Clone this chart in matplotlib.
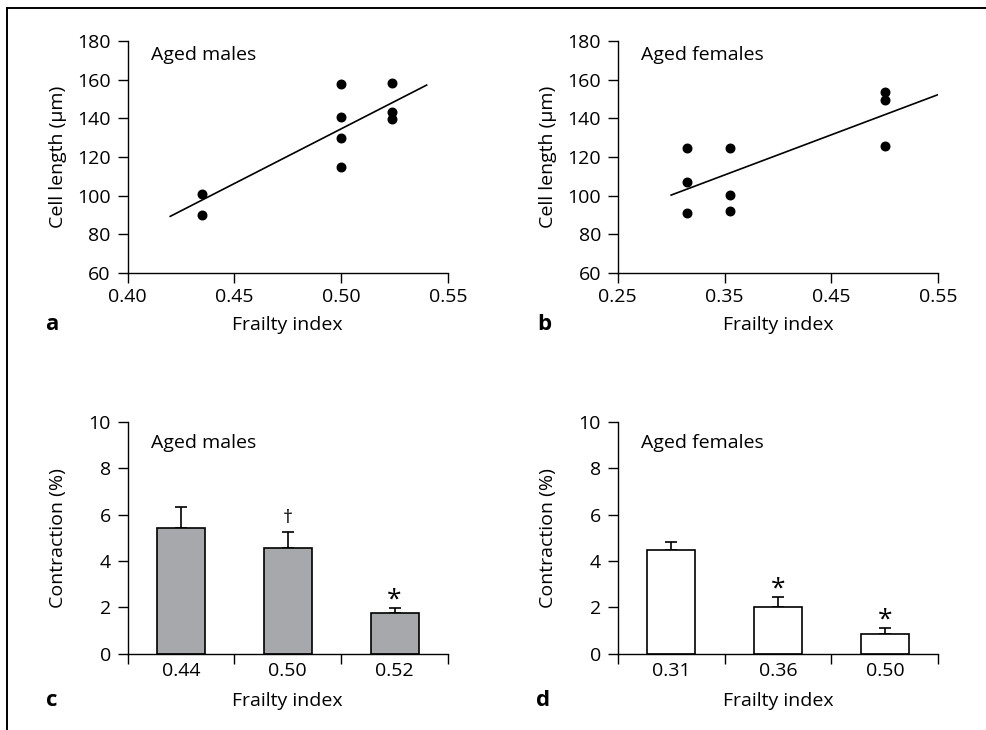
import numpy as np
import matplotlib
matplotlib.use("Agg")
import matplotlib.pyplot as plt
from matplotlib.lines import Line2D

plt.rcParams['font.family'] = ['Open Sans', 'DejaVu Sans']
plt.rcParams['font.size'] = 14

# panel a: aged males, cell length vs frailty index
male_fi = [0.435, 0.435, 0.500, 0.500, 0.500, 0.500, 0.524, 0.524, 0.524]
male_len = [100.8, 89.9, 157.6, 140.5, 129.9, 114.7, 158.4, 143.5, 139.5]
male_fit_x = [0.42, 0.54]
male_fit_y = [89.3, 157.2]

# panel b: aged females
female_fi = [0.3145, 0.3145, 0.3145, 0.355, 0.355, 0.355, 0.50, 0.50, 0.50]
female_len = [124.7, 107.2, 91.0, 124.7, 100.4, 92.2, 153.6, 149.3, 125.6]
female_fit_x = [0.30, 0.55]
female_fit_y = [100.3, 152.3]

# panels c, d: contraction bars (mean, SEM)
male_groups = ['0.44', '0.50', '0.52']
male_contr = [5.42, 4.57, 1.74]
male_err = [0.92, 0.69, 0.23]
male_marks = ['', '\u2020', '*']

female_groups = ['0.31', '0.36', '0.50']
female_contr = [4.48, 2.00, 0.83]
female_err = [0.35, 0.44, 0.28]
female_marks = ['', '*', '*']

W, H = 986, 730
fig = plt.figure(figsize=(W / 100, H / 100), dpi=100)


def px_axes(x0, ytop, x1, ybot):
    return fig.add_axes([x0 / W, 1 - ybot / H, (x1 - x0) / W, (ybot - ytop) / H])


def style(ax):
    for s in ['top', 'right']:
        ax.spines[s].set_visible(False)
    for s in ['left', 'bottom']:
        ax.spines[s].set_linewidth(1.0)
    ax.tick_params(direction='out', length=7, width=1.0, labelsize=14)
    ax.tick_params(axis='y', pad=5)
    ax.tick_params(axis='x', pad=4)


def scatter_panel(ax, x, y, fx, fy, xticks, title):
    style(ax)
    ax.scatter(x, y, s=38, color='black', zorder=3, clip_on=False)
    ax.plot(fx, fy, color='black', lw=1.2)
    ax.set_xlim(xticks[0], xticks[-1])
    ax.set_ylim(60, 180)
    ax.set_xticks(xticks)
    ax.set_xticklabels(['%.2f' % t for t in xticks])
    ax.set_yticks(range(60, 181, 20))
    ax.set_ylabel('Cell length (\u00b5m)')
    ax.set_xlabel('Frailty index')
    ax.text(0.072, 0.94, title, transform=ax.transAxes, ha='left', va='center')


def bar_panel(ax, labels, vals, errs, marks, color, title, mark_y):
    style(ax)
    pos = np.arange(len(vals)) + 0.5
    ax.bar(pos, vals, width=0.45, color=color, edgecolor='black', linewidth=1.2, zorder=2)
    ax.errorbar(pos, vals, yerr=[np.zeros(len(vals)), errs], fmt='none',
                ecolor='black', elinewidth=1.2, capsize=4, capthick=1.2, zorder=1)
    for p, m, my in zip(pos, marks, mark_y):
        if m:
            fs = 19 if m == '*' else 14
            ax.text(p, my, m, ha='center', va='center', fontsize=fs)
    ax.set_xlim(0, len(vals))
    ax.set_ylim(0, 10)
    ax.set_xticks(range(len(vals) + 1))
    ax.set_xticklabels([])
    ax.set_xticks(pos, minor=True)
    ax.set_xticklabels(labels, minor=True)
    ax.tick_params(axis='x', which='minor', length=0, labelsize=14, pad=6)
    ax.set_yticks(range(0, 11, 2))
    ax.set_ylabel('Contraction (%)')
    ax.set_xlabel('Frailty index')
    ax.text(0.072, 0.91, title, transform=ax.transAxes, ha='left', va='center')


ax_a = px_axes(127.5, 41, 448, 273)
scatter_panel(ax_a, male_fi, male_len, male_fit_x, male_fit_y,
              [0.40, 0.45, 0.50, 0.55], 'Aged males')
ax_b = px_axes(617.7, 41, 938.3, 273)
scatter_panel(ax_b, female_fi, female_len, female_fit_x, female_fit_y,
              [0.25, 0.35, 0.45, 0.55], 'Aged females')
ax_c = px_axes(127.5, 421.7, 448, 653.7)
bar_panel(ax_c, male_groups, male_contr, male_err, male_marks, '#a7a8ac',
          'Aged males', [0, 5.85, 2.3])
ax_d = px_axes(617.7, 421.7, 938.3, 653.7)
bar_panel(ax_d, female_groups, female_contr, female_err, female_marks, 'white',
          'Aged females', [0, 2.8, 1.45])

for ax in (ax_a, ax_b, ax_c, ax_d):
    ax.yaxis.set_label_coords(-0.188, 0.5)
for ax in (ax_a, ax_b):
    ax.xaxis.set_label_coords(0.5, -0.185)
for ax in (ax_c, ax_d):
    ax.xaxis.set_label_coords(0.5, -0.165)

# panel letters
for letter, (x, y) in zip('abcd', [(52, 325), (544, 325), (52, 700), (543, 700)]):
    fig.text(x / W, 1 - y / H, letter, ha='center', va='center',
             fontsize=16, fontweight='bold')

# frame lines on the top and left
fig.add_artist(Line2D([7 / W, 1], [1 - 8 / H, 1 - 8 / H], color='black', lw=1.4,
                      transform=fig.transFigure))
fig.add_artist(Line2D([7 / W, 7 / W], [0, 1 - 8 / H], color='black', lw=1.4,
                      transform=fig.transFigure))

fig.savefig('out.png', dpi=100)
